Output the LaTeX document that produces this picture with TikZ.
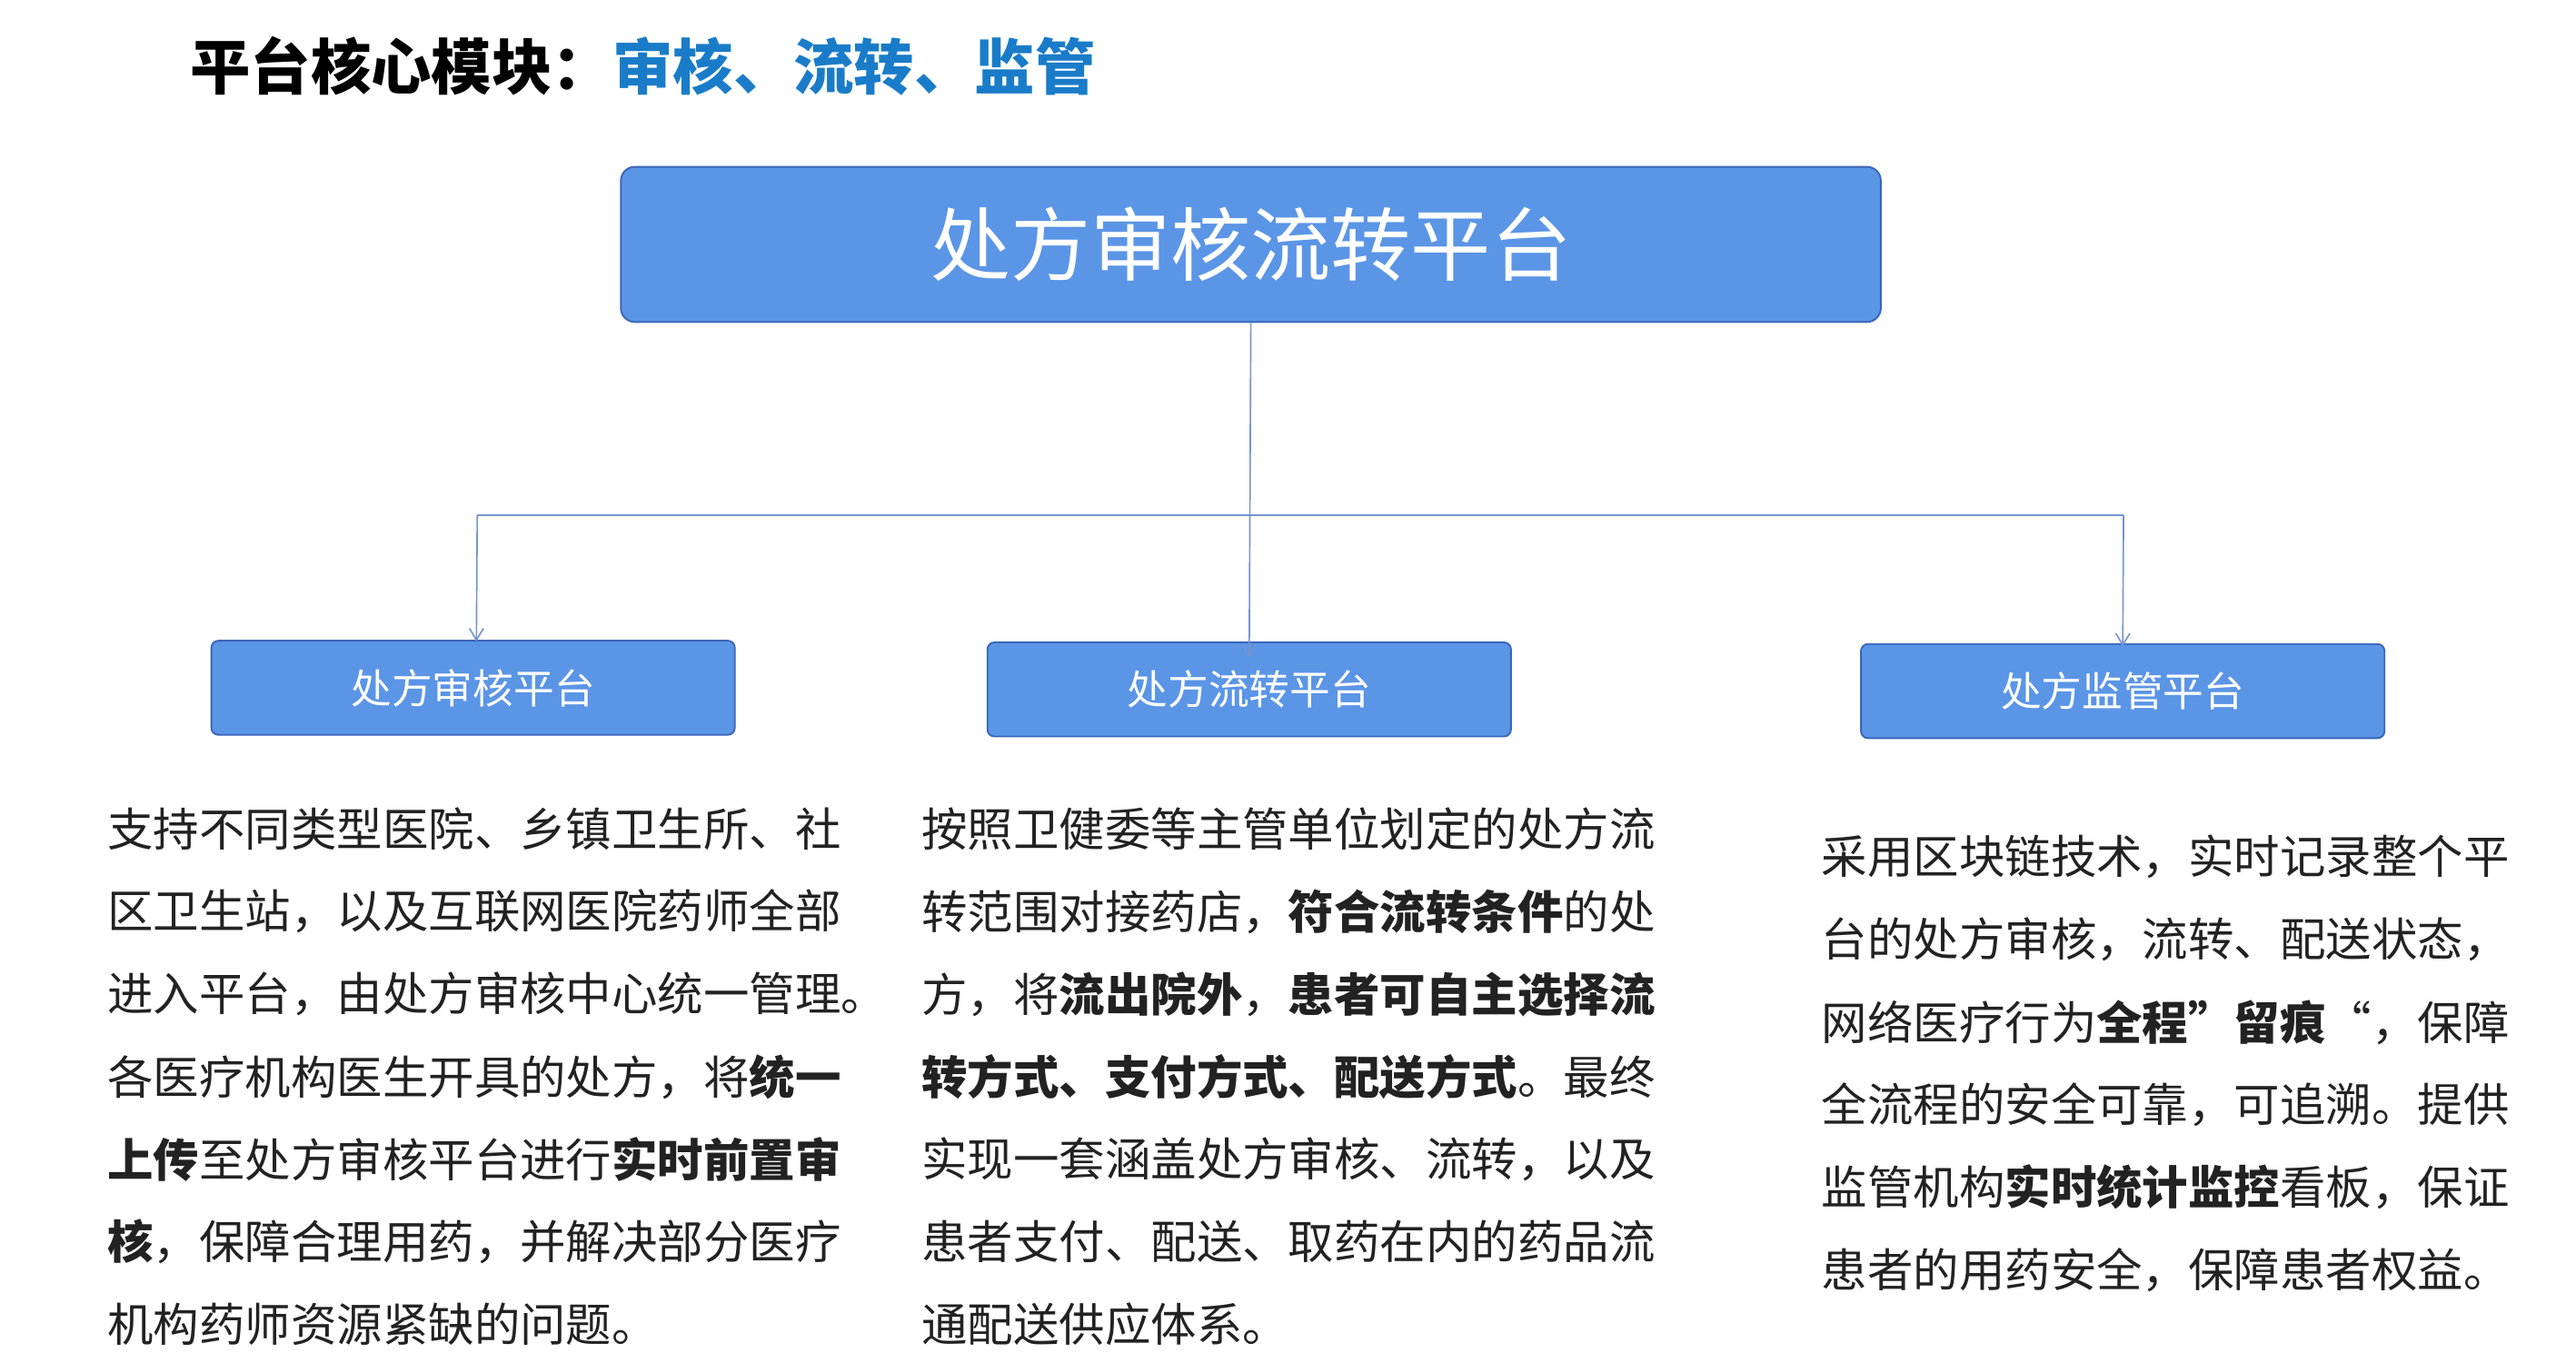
\documentclass[tikz,border=0pt]{standalone}
\usepackage{fontspec}
\setmainfont{Noto Sans CJK SC}
\usetikzlibrary{arrows.meta}
\definecolor{boxfill}{HTML}{5B95E6}
\definecolor{boxline}{HTML}{3B66B8}
\definecolor{ttblue}{HTML}{1A7CC8}
\definecolor{txt}{HTML}{222222}
\begin{document}
\begin{tikzpicture}[x=0.05cm,y=-0.05cm,
  mainbox/.style={draw=boxline,line width=1.5pt,fill=boxfill,rounded corners=12pt,text=white},
  subbox/.style={draw=boxline,line width=1.5pt,fill=boxfill,rounded corners=6pt,text=white,font=\fontsize{35}{40}\selectfont},
  para/.style={anchor=west,inner sep=0pt,text=txt,font=\fontsize{39.5}{45}\selectfont},
  conn/.style={draw=boxline!70!white,line width=1.3pt},
  arr/.style={conn,-{Straight Barb[length=10pt,width=12pt]}}]
\useasboundingbox (0,0) rectangle (1560,819);
\node[anchor=west,inner sep=0pt,font=\fontsize{52}{60}\selectfont\bfseries] (hdr) at (115,40) {平台核心模块：\textcolor{ttblue}{审核、流转、监管}};
\node[mainbox,minimum width=763*0.05cm,minimum height=94*0.05cm,font=\fontsize{69}{75}\selectfont] (main) at (757.5,148) {处方审核流转平台};
\node[subbox,minimum width=317*0.05cm,minimum height=57*0.05cm] (s1) at (286.5,416.5) {处方审核平台};
\node[subbox,minimum width=317*0.05cm,minimum height=57*0.05cm] (s2) at (756.5,417.5) {处方流转平台};
\node[subbox,minimum width=317*0.05cm,minimum height=57*0.05cm] (s3) at (1285.5,418.5) {处方监管平台};
\coordinate (jl) at (289,312);
\coordinate (jr) at (1286,312);
\draw[arr] (main.south) -- ([yshift=-0.5cm]s2.north);
\draw[conn] (jl) -- (jr);
\draw[arr] (jl) -- ([xshift=0.1cm,yshift=-0.05cm]s1.north);
\draw[arr] (jr) -- ([yshift=-0.1cm]s3.north);
% left
\node[para] (l1) at (65,502) {支持不同类型医院、乡镇卫生所、社};
\node[para] (l2) at (65,552) {区卫生站，以及互联网医院药师全部};
\node[para] (l3) at (65,602) {进入平台，由处方审核中心统一管理。};
\node[para] (l4) at (65,652) {各医疗机构医生开具的处方，将\textbf{统一}};
\node[para] (l5) at (65,702) {\textbf{上传}至处方审核平台进行\textbf{实时前置审}};
\node[para] (l6) at (65,752) {\textbf{核}，保障合理用药，并解决部分医疗};
\node[para] (l7) at (65,802) {机构药师资源紧缺的问题。};
% middle
\node[para] (m1) at (558,502) {按照卫健委等主管单位划定的处方流};
\node[para] (m2) at (558,552) {转范围对接药店，\textbf{符合流转条件}的处};
\node[para] (m3) at (558,602) {方，将\textbf{流出院外}，\textbf{患者可自主选择流}};
\node[para] (m4) at (558,652) {\textbf{转方式、支付方式、配送方式}。最终};
\node[para] (m5) at (558,702) {实现一套涵盖处方审核、流转，以及};
\node[para] (m6) at (558,752) {患者支付、配送、取药在内的药品流};
\node[para] (m7) at (558,802) {通配送供应体系。};
% right
\node[para] (r1) at (1103,519) {采用区块链技术，实时记录整个平};
\node[para] (r2) at (1103,569) {台的处方审核，流转、配送状态，};
\node[para] (r3) at (1103,619) {网络医疗行为\textbf{全程”留痕}“，保障};
\node[para] (r4) at (1103,669) {全流程的安全可靠，可追溯。提供};
\node[para] (r5) at (1103,719) {监管机构\textbf{实时统计监控}看板，保证};
\node[para] (r6) at (1103,769) {患者的用药安全，保障患者权益。};
\end{tikzpicture}
\end{document}
